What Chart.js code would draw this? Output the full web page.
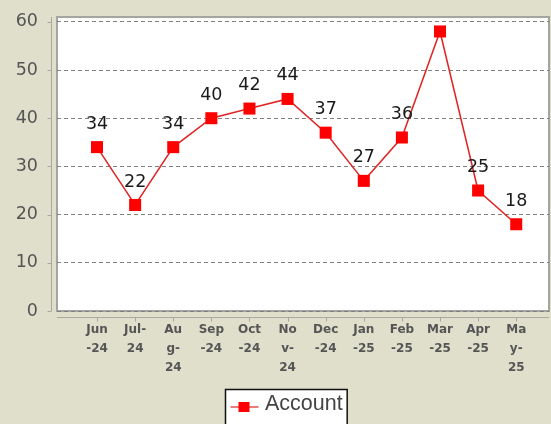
<!DOCTYPE html>
<html>
<head>
<meta charset="utf-8">
<script src="https://cdn.jsdelivr.net/npm/chart.js@4"></script>
<style>
  html, body { margin: 0; padding: 0; background: #dfdfcc; }
  canvas { display: block; }
</style>
</head>
<body>
<canvas id="myChart" width="551" height="424"></canvas>
<script>
const months = [
    ['Jun', '-24'], ['Jul-', '24'], ['Au', 'g-', '24'], ['Sep', '-24'],
    ['Oct', '-24'], ['No', 'v-', '24'], ['Dec', '-24'], ['Jan', '-25'],
    ['Feb', '-25'], ['Mar', '-25'], ['Apr', '-25'], ['Ma', 'y-', '25']
];
const account = [34, 22, 34, 40, 42, 44, 37, 27, 36, 58, 25, 18];
const yTicks = [0, 10, 20, 30, 40, 50, 60];
const seriesName = 'Account';

const bgColor = '#dfdfcc';
const tickColor = '#555555';

const decorations = {
    id: 'decorations',
    beforeDraw(chart) {
        const { ctx, chartArea: a, scales } = chart;
        ctx.save();
        ctx.fillStyle = bgColor;
        ctx.fillRect(0, 0, chart.width, chart.height);
        ctx.fillStyle = '#ffffff';
        ctx.fillRect(a.left, a.top, a.right - a.left, a.bottom - a.top);
        ctx.strokeStyle = '#a4a4a0';
        ctx.lineWidth = 2;
        ctx.strokeRect(a.left, a.top, a.right - a.left, a.bottom - a.top);

        // y axis line, detached from the plot
        ctx.strokeStyle = '#a8a8a0';
        ctx.lineWidth = 1;
        const ax = a.left - 5.5;
        ctx.beginPath();
        ctx.moveTo(ax, a.top);
        ctx.lineTo(ax, a.bottom);
        scales.y.ticks.forEach(t => {
            const y = Math.round(scales.y.getPixelForValue(t.value)) + 0.5;
            ctx.moveTo(ax - 4, y);
            ctx.lineTo(ax, y);
        });
        // x axis line below the plot
        const ay = a.bottom + 6.5;
        ctx.moveTo(a.left, ay);
        ctx.lineTo(a.right, ay);
        scales.x.ticks.forEach(t => {
            const x = Math.round(scales.x.getPixelForValue(t.value)) + 0.5;
            ctx.moveTo(x, ay);
            ctx.lineTo(x, ay + 4);
        });
        ctx.stroke();
        ctx.restore();
    },
    afterDatasetsDraw(chart) {
        const { ctx, chartArea: a } = chart;
        const meta = chart.getDatasetMeta(0);
        const data = chart.data.datasets[0].data;
        ctx.save();
        ctx.font = '17.5px "DejaVu Sans"';
        ctx.fillStyle = '#1a1a1a';
        ctx.textAlign = 'center';
        ctx.textBaseline = 'middle';
        meta.data.forEach((pt, i) => {
            const y = pt.y - 23;
            if (y - 8 < a.top) return;
            ctx.fillText(String(data[i].y), pt.x, y);
        });
        ctx.restore();
    },
    afterDraw(chart) {
        const { ctx } = chart;
        const ds = chart.data.datasets[0];
        ctx.save();
        ctx.font = '21.5px "Liberation Sans"';
        const tw = ctx.measureText(ds.label).width;
        const bx = 225.5, by = 389.5;
        const bw = 40 + tw + 4;
        ctx.fillStyle = '#ffffff';
        ctx.fillRect(bx, by, bw, 40);
        ctx.strokeStyle = '#111111';
        ctx.lineWidth = 1.5;
        ctx.strokeRect(bx, by, bw, 40);
        ctx.strokeStyle = ds.borderColor;
        ctx.lineWidth = 1.2;
        ctx.beginPath();
        ctx.moveTo(bx + 5, 407);
        ctx.lineTo(bx + 33, 407);
        ctx.stroke();
        ctx.fillStyle = ds.pointBackgroundColor;
        ctx.fillRect(bx + 13, 402, 11, 10);
        ctx.fillStyle = '#444444';
        ctx.textBaseline = 'alphabetic';
        ctx.fillText(ds.label, bx + 39.5, 410);
        ctx.restore();
    }
};

const ctx = document.getElementById('myChart').getContext('2d');
const chart = new Chart(ctx, {
    type: 'line',
    data: {
        datasets: [{
            label: seriesName,
            data: account.map((v, i) => ({ x: i, y: v })),
            borderColor: '#e02424',
            borderWidth: 1.5,
            pointStyle: 'rect',
            pointRadius: 8.5,
            pointHoverRadius: 8.5,
            pointBackgroundColor: '#ff0000',
            pointBorderWidth: 0,
            tension: 0
        }]
    },
    options: {
        responsive: false,
        animation: false,
        devicePixelRatio: 1,
        layout: { autoPadding: false, padding: { top: 17, right: 2, left: 0, bottom: 0 } },
        plugins: {
            legend: { display: false },
            tooltip: { enabled: false }
        },
        scales: {
            x: {
                type: 'linear',
                min: -1.05,
                max: 11.86,
                afterBuildTicks: s => { s.ticks = months.map((m, i) => ({ value: i })); },
                afterFit: s => {
                    s.height = 113;
                    s.paddingLeft = 0;
                    s.paddingRight = 0;
                },
                grid: { display: false },
                border: { display: false },
                ticks: {
                    autoSkip: false,
                    maxRotation: 0,
                    padding: 2,
                    color: tickColor,
                    font: { family: 'DejaVu Sans', size: 12, weight: 'bold', lineHeight: 1.55 },
                    callback: v => months[v]
                }
            },
            y: {
                min: 0,
                max: 61,
                afterBuildTicks: s => { s.ticks = yTicks.map(v => ({ value: v })); },
                afterFit: s => {
                    s.width = 57;
                    s.paddingTop = 0;
                    s.paddingBottom = 0;
                },
                grid: {
                    drawTicks: false,
                    color: '#808080',
                    lineWidth: 1
                },
                border: { display: false, dash: [4, 3] },
                ticks: {
                    padding: 19,
                    color: tickColor,
                    font: { family: 'DejaVu Sans', size: 17.5 }
                }
            }
        }
    },
    plugins: [decorations]
});
</script>
</body>
</html>
